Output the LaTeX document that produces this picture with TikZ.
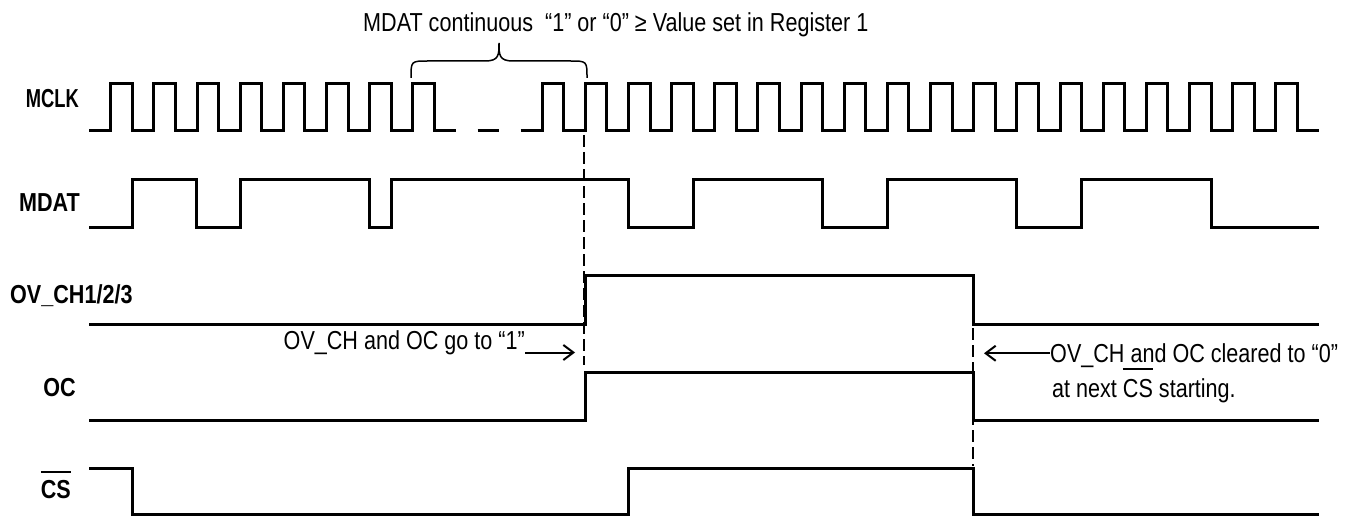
\documentclass[tikz,border=0pt]{standalone}
\usepackage{fontspec}
\setmainfont{Liberation Sans}[FakeStretch=0.83]
\usetikzlibrary{arrows.meta}
\newsavebox\myovlbox
\newcommand\myovl[2]{\sbox\myovlbox{#1}\rlap{\raisebox{#2}{\rule{\wd\myovlbox}{1.8pt}}}\usebox\myovlbox}
\begin{document}
\begin{tikzpicture}[x=1pt,y=-1pt,
  wave/.style={line width=3pt,line join=miter},
  guide/.style={line width=1.3pt,dash pattern=on 12pt off 5pt},
  arr/.style={line width=2pt,-{Straight Barb[length=10pt,width=15pt,line width=2pt]}},
  brace/.style={line width=1.5pt},
  lbl/.style={font=\fontsize{26}{30}\selectfont\bfseries,inner sep=0pt},
  ann/.style={font=\fontsize{26}{30}\selectfont,inner sep=0pt}]
\useasboundingbox (0,0) rectangle (1352,516);

% labels
\node[lbl,anchor=base east] (lmclk) at (79,108) {\scalebox{0.85}[1]{MCLK}};
\node[lbl,anchor=base east] (lmdat) at (80,211) {MDAT};
\node[lbl,anchor=base west] (lov) at (10,303.5) {OV\_CH1/2/3};
\node[lbl,anchor=base east] (loc) at (76,396.5) {OC};
\node[lbl,anchor=base east] (lcs) at (71,498) {\myovl{CS}{25pt}};

% title and brace
\node[ann,anchor=base west] (ttl) at (363,31.5) {MDAT continuous\ \ “1” or “0” ≥ Value set in Register 1};
\draw[brace] (411,78) .. controls (411,61) .. (428,61) -- (485,61)
  .. controls (499,61) and (499,55) .. (499,43)
  .. controls (499,55) and (499,61) .. (513,61) -- (570,61)
  .. controls (587,61) .. (587,78);

% MCLK
\draw[wave] (89.3,130.7) \foreach \k in {0,...,7}{
  -- ({110.7+43.15*\k},130.7) -- ({110.7+43.15*\k},83.3)
  -- ({132.275+43.15*\k},83.3) -- ({132.275+43.15*\k},130.7)} -- (455.9,130.7);
\draw[wave] (477.5,130.7) -- (499.05,130.7);
\draw[wave] (520.6,130.7) \foreach \k in {10,...,27}{
  -- ({110.7+43.15*\k},130.7) -- ({110.7+43.15*\k},83.3)
  -- ({132.275+43.15*\k},83.3) -- ({132.275+43.15*\k},130.7)} -- (1318.9,130.7);

% MDAT
\draw[wave] (89.3,227.7) -- (132.3,227.7) -- (132.3,179.3) -- (196.9,179.3)
  -- (196.9,227.7) -- (240.15,227.7) -- (240.15,179.3) -- (369.6,179.3)
  -- (369.6,227.7) -- (391.2,227.7) -- (391.2,179.3) -- (628.5,179.3)
  -- (628.5,227.7) -- (693.2,227.7) -- (693.2,179.3) -- (822.7,179.3)
  -- (822.7,227.7) -- (887.4,227.7) -- (887.4,179.3) -- (1016.85,179.3)
  -- (1016.85,227.7) -- (1081.6,227.7) -- (1081.6,179.3) -- (1211,179.3)
  -- (1211,227.7) -- (1318.9,227.7);

% OV_CH
\draw[wave] (89.3,324) -- (585.35,324) -- (585.35,275) -- (973.7,275)
  -- (973.7,324) -- (1318.9,324);
% OC
\draw[wave] (89.3,420) -- (585.35,420) -- (585.35,372.7) -- (973.7,372.7)
  -- (973.7,420) -- (1318.9,420);
% CS
\draw[wave] (89.3,468) -- (132.3,468) -- (132.3,514.5) -- (628.5,514.5)
  -- (628.5,468) -- (973.7,468) -- (973.7,514.5) -- (1318.9,514.5);

% guide lines
\coordinate (g1a) at (584,135);
\coordinate (g1b) at (584,365);
\coordinate (g2a) at (973,328);
\coordinate (g2b) at (973,466);
\draw[guide] (g1a) -- (g1b);
\draw[guide] (g2a) -- (g2b);

% annotations
\node[ann,anchor=base east] (a1) at (525,349) {OV\_CH and OC go to “1”};
\coordinate (s1) at (525,352.5);
\coordinate (t1) at (575,352.5);
\draw[arr] (s1) -- (t1);

\node[ann,anchor=base west] (a2) at (1050,362) {OV\_CH and OC cleared to “0”};
\node[ann,anchor=base west] (a3) at (1052,397) {at next \myovl{CS}{27pt} starting.};
\coordinate (s2) at (1050,353.3);
\coordinate (t2) at (984,353.3);
\draw[arr] (s2) -- (t2);
\end{tikzpicture}
\end{document}
